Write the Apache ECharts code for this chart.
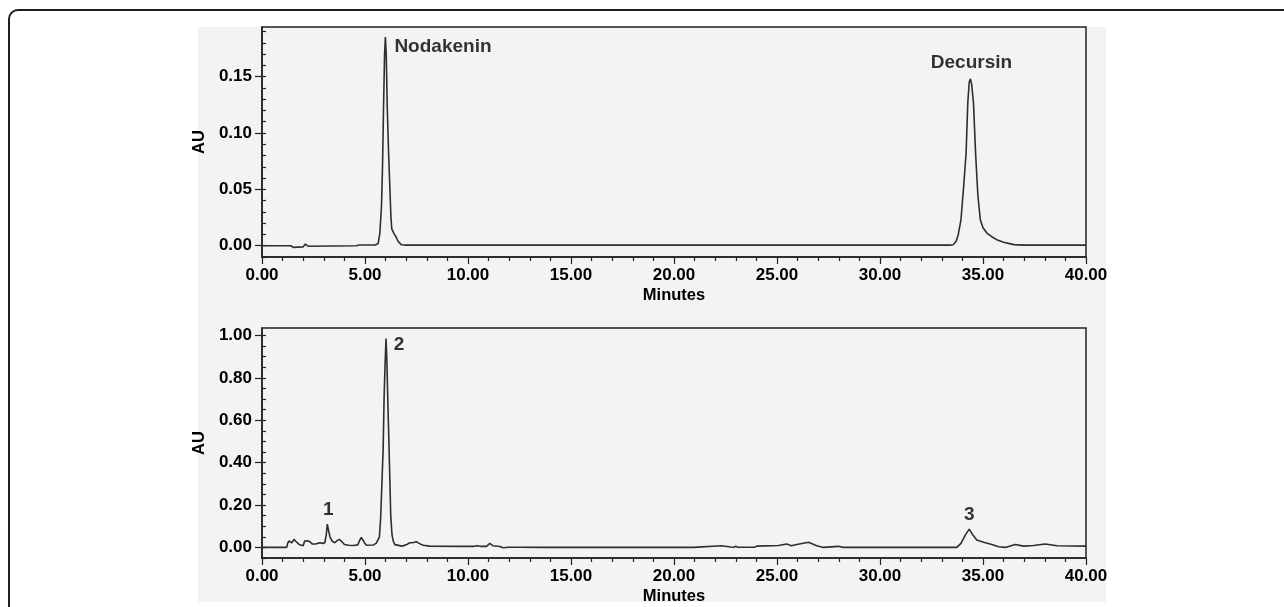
<!DOCTYPE html>
<html>
<head>
<meta charset="utf-8">
<script src="https://cdn.jsdelivr.net/npm/echarts@6/dist/echarts.min.js"></script>
<style>
html,body{margin:0;padding:0;background:#fff;}
#c{width:1284px;height:607px;}
</style>
</head>
<body>
<div id="c"></div>
<script>
// ---- Data: top chromatogram (standards) ----
const timeTop = [0, 1.40, 1.48, 1.52, 1.56, 2.00, 2.10, 2.20, 2.30, 4.60, 4.70, 5.50, 5.64, 5.72, 5.80, 5.85, 5.90, 5.95, 5.99, 6.03, 6.08, 6.14, 6.20, 6.26, 6.30, 6.40, 6.50, 6.60, 6.77, 7.00,
  33.40, 33.55, 33.70, 33.80, 33.93, 34.05, 34.18, 34.26, 34.33, 34.39, 34.45, 34.54, 34.64, 34.75, 34.87, 35.00, 35.20, 35.43, 35.70, 36.00, 36.50, 37.00, 40.00];
const auTop = [0, 0, 0.001, -0.0015, 0, -0.001, 0.0015, 0, -0.0005, 0, 0.0006, 0.0006, 0.002, 0.011, 0.035, 0.070, 0.123, 0.170, 0.185, 0.170, 0.123, 0.085, 0.055, 0.025, 0.015, 0.011, 0.008, 0.004, 0.0008, 0.0005,
  0.0005, 0.0008, 0.004, 0.010, 0.023, 0.050, 0.082, 0.126, 0.145, 0.148, 0.143, 0.126, 0.082, 0.045, 0.023, 0.016, 0.011, 0.008, 0.005, 0.003, 0.001, 0.0005, 0.0005];

// ---- Data: bottom chromatogram (sample) ----
const timeBottom = [0, 1.20, 1.25, 1.30, 1.38, 1.45, 1.55, 1.65, 1.80, 2.00, 2.07, 2.12, 2.20, 2.30, 2.45, 2.60, 2.80, 2.95, 3.05, 3.12, 3.17, 3.23, 3.30, 3.40, 3.53, 3.65, 3.75, 3.85, 4.00, 4.20, 4.45, 4.65, 4.75, 4.82, 4.90, 4.97, 5.07, 5.40, 5.55,
  5.63, 5.70, 5.76, 5.82, 5.88, 5.93, 5.98, 6.02, 6.06, 6.10, 6.17, 6.25, 6.31, 6.37, 6.45, 6.53, 6.80, 7.00, 7.17, 7.30, 7.50, 7.62, 7.82, 8.14, 9.60, 10.30, 10.45, 10.60, 10.90, 11.06, 11.20, 11.55, 11.70, 11.95, 12.50, 13.50,
  20.95, 21.00, 22.30, 22.35, 22.75, 22.80, 22.90, 23.00, 23.10, 23.90, 24.02, 24.10, 25.07, 25.47, 25.70, 25.96, 26.53, 26.93, 27.25, 27.98, 28.22,
  33.73, 33.93, 34.14, 34.33, 34.51, 34.70, 35.03, 35.43, 35.76, 36.08, 36.57, 36.97, 37.45, 38.02, 38.59, 40.00];
const auBottom = [0, 0, 0.020, 0.030, 0.028, 0.022, 0.038, 0.028, 0.014, 0.008, 0.030, 0.035, 0.031, 0.028, 0.016, 0.016, 0.022, 0.019, 0.022, 0.060, 0.110, 0.080, 0.050, 0.030, 0.022, 0.032, 0.038, 0.030, 0.014, 0.010, 0.009, 0.012, 0.035, 0.047, 0.035, 0.022, 0.010, 0.011, 0.020,
  0.027, 0.050, 0.140, 0.300, 0.460, 0.720, 0.880, 0.985, 0.890, 0.720, 0.460, 0.150, 0.060, 0.030, 0.013, 0.006, 0.006, 0.012, 0.022, 0.022, 0.027, 0.019, 0.010, 0.006, 0.005, 0.005, 0.008, 0.005, 0.005, 0.019, 0.008, 0.004, -0.002, 0.001, 0.001, 0.000,
  0.000, 0.008, 0.008, 0.001, 0.002, 0.006, 0.001, 0.005, 0.001, 0.001, 0.006, 0.001, 0.009, 0.016, 0.008, 0.014, 0.024, 0.008, 0.000, 0.005, 0.000,
  0.000, 0.019, 0.058, 0.086, 0.058, 0.035, 0.024, 0.014, 0.003, 0.000, 0.014, 0.006, 0.009, 0.016, 0.008, 0.006];

// ---- Peak annotations (apex time, apex AU) ----
const peakNamesTop = ['Nodakenin', 'Decursin'];
const peakTimesTop = [5.99, 34.39];
const peakAuTop = [0.185, 0.148];
const peakNamesBottom = ['1', '2', '3'];
const peakTimesBottom = [3.17, 6.02, 34.33];
const peakAuBottom = [0.110, 0.985, 0.086];

// ---- Tick labels ----
const xTickValues = [0, 5, 10, 15, 20, 25, 30, 35, 40];
const yTickTop = [0, 0.05, 0.10, 0.15];
const yTickBottom = [0, 0.20, 0.40, 0.60, 0.80, 1.00];
const yMinorStepTop = 0.01;
const yMinorStepBottom = 0.05;
const xTitle = 'Minutes';
const yTitle = 'AU';

const FONT = '"Liberation Sans", Arial, Helvetica, sans-serif';
const AXIS_COLOR = '#222';
const TEXT_COLOR = '#000';

function steps(min, max, step) {
  const out = [];
  const n = Math.round((max - min) / step);
  for (let i = 0; i <= n; i++) out.push(+(min + i * step).toFixed(4));
  return out;
}
function pairs(ts, vs) { return ts.map((t, i) => [t, vs[i]]); }

const chart = echarts.init(document.getElementById('c'), null, { renderer: 'canvas' });

const grids = [
  { left: 262, top: 27, width: 824, height: 230 },
  { left: 262, top: 328, width: 824, height: 230 }
];
const yRanges = [
  { min: -0.01, max: 0.194, major: yTickTop, minor: steps(-0.01, 0.19, yMinorStepTop) },
  { min: -0.05, max: 1.035, major: yTickBottom, minor: steps(-0.05, 1.0, yMinorStepBottom) }
];

const xAxes = grids.map((g, i) => ({
  type: 'value', gridIndex: i, min: 0, max: 40, interval: 5,
  name: xTitle, nameLocation: 'middle', nameGap: 30,
  nameTextStyle: { fontFamily: FONT, fontWeight: 'bold', fontSize: 16.5, color: TEXT_COLOR },
  axisLine: { onZero: false, lineStyle: { color: AXIS_COLOR, width: 1.5 } },
  axisTick: { length: 7, customValues: xTickValues, lineStyle: { color: AXIS_COLOR, width: 1.2 } },
  minorTick: { show: true, splitNumber: 5, length: 4, lineStyle: { color: AXIS_COLOR, width: 1.2 } },
  axisLabel: { margin: 10, fontFamily: FONT, fontWeight: 'bold', fontSize: 17, color: TEXT_COLOR,
    formatter: v => v.toFixed(2) },
  splitLine: { show: false }
}));

const yAxes = [];
yRanges.forEach((r, i) => {
  yAxes.push({
    type: 'value', gridIndex: i, min: r.min, max: r.max,
    name: yTitle, nameLocation: 'middle', nameGap: 48, nameRotate: 90,
    nameTextStyle: { fontFamily: FONT, fontWeight: 'bold', fontSize: 16.5, color: TEXT_COLOR },
    axisLine: { show: true, onZero: false, lineStyle: { color: AXIS_COLOR, width: 1.5 } },
    axisTick: { show: true, length: 7, customValues: r.major, lineStyle: { color: AXIS_COLOR, width: 1.2 } },
    axisLabel: { margin: 10, customValues: r.major, fontFamily: FONT, fontWeight: 'bold', fontSize: 17, color: TEXT_COLOR,
      formatter: v => v.toFixed(2) },
    splitLine: { show: false }
  });
});
yRanges.forEach((r, i) => {
  yAxes.push({
    type: 'value', gridIndex: i, min: r.min, max: r.max,
    axisLine: { show: false },
    axisTick: { show: true, length: 4, customValues: r.minor, lineStyle: { color: AXIS_COLOR, width: 1.2 } },
    axisLabel: { show: false },
    splitLine: { show: false }
  });
});

const lineStyle = { color: '#2e2e2e', width: 1.6 };
const labelStyle = { fontFamily: FONT, fontWeight: 'bold', fontSize: 19, color: TEXT_COLOR, textBorderWidth: 0 };

const topLabelOffsets = [[9, 10], [1, -16]];
const topLabelAlign = ['left', 'center'];
const bottomLabelOffsets = [[1, -14], [13, 6], [0, -14]];

const option = {
  animation: false,
  backgroundColor: '#ffffff',
  graphic: [
    { type: 'rect', z: -20, shape: { x: 198, y: 27, width: 908, height: 575 }, style: { fill: '#f3f3f3' }, silent: true },
    { type: 'rect', z: -10, shape: { x: 9, y: 10, width: 1300, height: 640, r: 9 }, style: { fill: 'none', stroke: '#1e1e1e', lineWidth: 2 }, silent: true }
  ],
  grid: grids.map(g => Object.assign({ show: true, borderColor: AXIS_COLOR, borderWidth: 1.5, backgroundColor: 'transparent' }, g)),
  xAxis: xAxes,
  yAxis: yAxes,
  series: [
    { type: 'line', xAxisIndex: 0, yAxisIndex: 0, data: pairs(timeTop, auTop), showSymbol: false, lineStyle: lineStyle, z: 3 },
    { type: 'line', xAxisIndex: 1, yAxisIndex: 1, data: pairs(timeBottom, auBottom), showSymbol: false, lineStyle: lineStyle, z: 3 },
    { type: 'scatter', xAxisIndex: 0, yAxisIndex: 0, symbolSize: 0, z: 4,
      data: peakNamesTop.map((n, i) => ({ value: [peakTimesTop[i], peakAuTop[i]], name: n,
        label: Object.assign({ show: true, position: 'inside', offset: topLabelOffsets[i], align: topLabelAlign[i], verticalAlign: 'middle', formatter: n }, labelStyle) })) },
    { type: 'scatter', xAxisIndex: 1, yAxisIndex: 1, symbolSize: 0, z: 4,
      data: peakNamesBottom.map((n, i) => ({ value: [peakTimesBottom[i], peakAuBottom[i]], name: n,
        label: Object.assign({ show: true, position: 'inside', offset: bottomLabelOffsets[i], align: 'center', verticalAlign: 'middle', formatter: n }, labelStyle) })) }
  ]
};
chart.setOption(option);
</script>
</body>
</html>
